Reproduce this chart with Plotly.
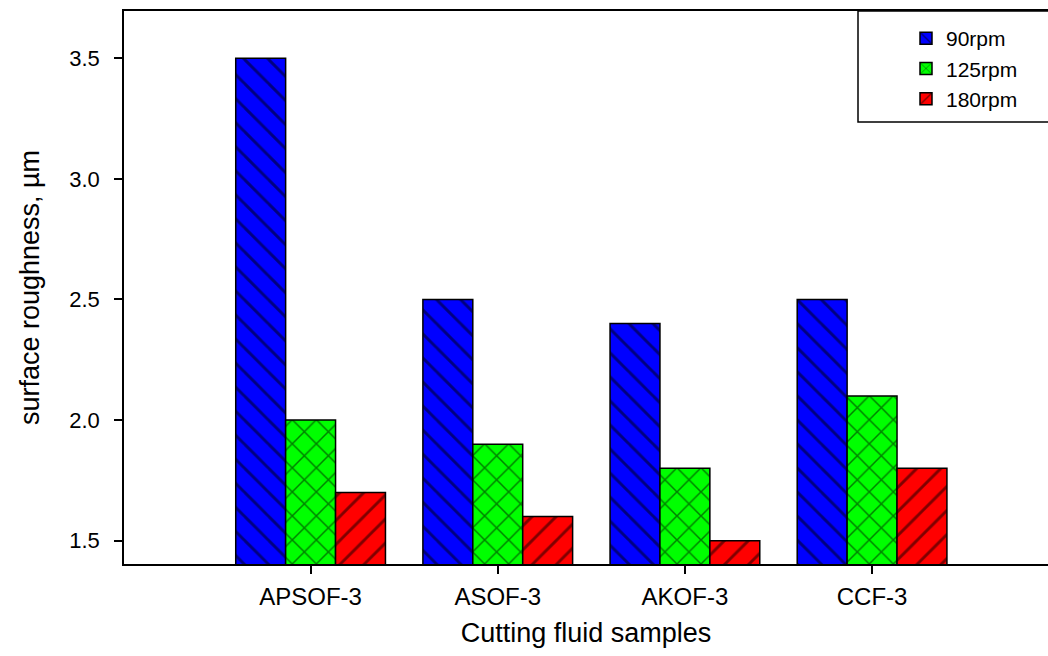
import plotly.graph_objects as go

categories = ["APSOF-3", "ASOF-3", "AKOF-3", "CCF-3"]
series_names = ["90rpm", "125rpm", "180rpm"]
rpm90 = [3.5, 2.5, 2.4, 2.5]
rpm125 = [2.0, 1.9, 1.8, 2.1]
rpm180 = [1.7, 1.6, 1.5, 1.8]
y_ticks = [1.5, 2.0, 2.5, 3.0, 3.5]
y_tick_labels = ["1.5", "2.0", "2.5", "3.0", "3.5"]

colors = ["#0000FF", "#00FF00", "#FF0000"]
shapes = ["\\", "x", "/"]
values = [rpm90, rpm125, rpm180]

FONT = "Liberation Sans, Arial, sans-serif"

fig = go.Figure()
for name, vals, col, shp in zip(series_names, values, colors, shapes):
    fig.add_trace(go.Bar(
        x=categories, y=vals, name=name,
        marker=dict(color=col, line=dict(color="black", width=1.5),
                    pattern=dict(shape=shp, fgcolor="black", bgcolor=col,
                                 size=17, solidity=0.17, fillmode="overlay")),
    ))

L, R, T, B = 124, 0, 11, 92
W, H = 1048, 656
pw, ph = W - L - R, H - T - B

def px_x(p):
    return (p - L) / pw

def px_y(p):
    return (H - B - p) / ph

fig.update_layout(
    width=W, height=H,
    margin=dict(l=L, r=R, t=T, b=B, autoexpand=False),
    paper_bgcolor="white", plot_bgcolor="white",
    barmode="group", bargap=0.2, bargroupgap=0,
    font=dict(family=FONT, color="black"),
    showlegend=True,
    legend=dict(x=px_x(906), y=px_y(18), xanchor="left", yanchor="top",
                bgcolor="rgba(0,0,0,0)", borderwidth=0,
                font=dict(size=21, family=FONT, color="black"),
                tracegroupgap=0),
    shapes=[dict(type="rect", xref="paper", yref="paper",
                 x0=px_x(858), x1=1.05, y0=px_y(122), y1=1.0,
                 line=dict(color="black", width=1.5), fillcolor="rgba(0,0,0,0)",
                 layer="above")],
    xaxis=dict(
        range=[-0.997, 3.94], showgrid=False, zeroline=False,
        showline=True, mirror=True, linecolor="black", linewidth=2,
        ticks="outside", ticklen=8, tickwidth=1.5, tickcolor="black",
        tickfont=dict(size=24, family=FONT), ticklabelstandoff=2,
        title=dict(text="Cutting fluid samples", font=dict(size=27, family=FONT), standoff=14),
        automargin=False,
    ),
    yaxis=dict(
        range=[1.4034, 3.696], showgrid=False, zeroline=False,
        showline=True, mirror=False, linecolor="black", linewidth=1.5,
        ticks="outside", ticklen=8, tickwidth=1.5, tickcolor="black",
        tickvals=y_ticks, ticktext=y_tick_labels,
        tickfont=dict(size=22, family=FONT), ticklabelstandoff=10,
        title=dict(text="surface roughness, µm", font=dict(size=27, family=FONT), standoff=22),
        automargin=False,
    ),
)

fig.write_html("out.html")
